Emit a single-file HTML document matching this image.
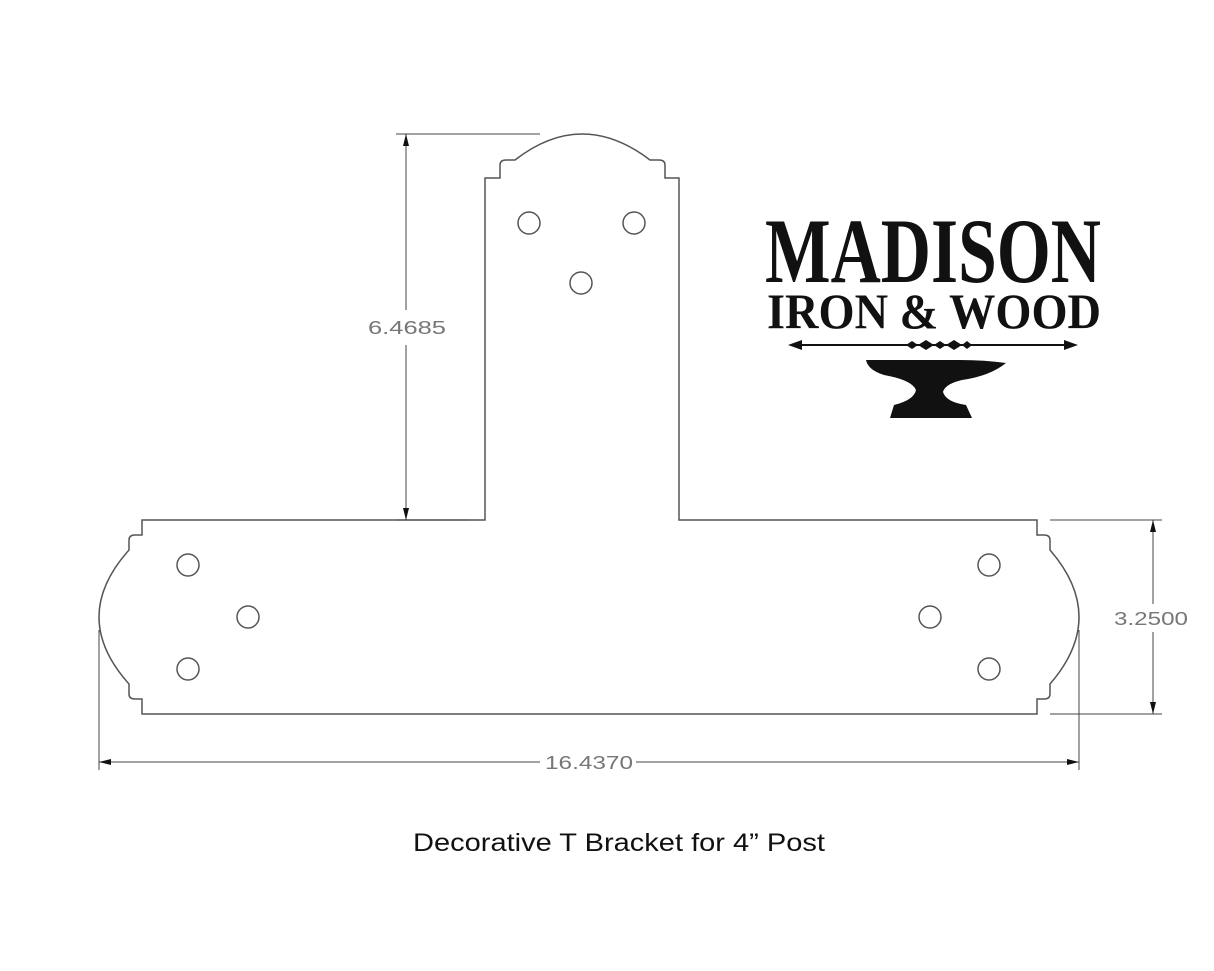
<!DOCTYPE html>
<html><head><style>body{margin:0;background:#fff}svg{display:block}</style></head><body>
<svg width="1214" height="971" viewBox="0 0 1214 971" xmlns="http://www.w3.org/2000/svg">
<g fill="none" stroke="#555" stroke-width="1.5">
<path d="M142 520 H485 V178 H500 V165 Q500 160 506 160 H515 Q582 108 650 160 H659 Q665 160 665 165 V178 H679 V520 H1037 V535 H1044 Q1050 535 1050 540 V550 Q1108 617 1050 684 V694 Q1050 699 1044 699 H1037 V714 H142 V699 H135 Q129 699 129 694 V684 Q69 617 129 550 V540 Q129 535 135 535 H142 Z"/>
<circle cx="529" cy="223" r="11"/><circle cx="634" cy="223" r="11"/><circle cx="581" cy="283" r="11"/>
<circle cx="188" cy="565" r="11"/><circle cx="248" cy="617" r="11"/><circle cx="188" cy="669" r="11"/>
<circle cx="989" cy="565" r="11"/><circle cx="930" cy="617" r="11"/><circle cx="989" cy="669" r="11"/>
</g>
<g stroke="#444" stroke-width="1">
<line x1="396" y1="134" x2="540" y2="134"/><line x1="396" y1="520" x2="470" y2="520"/>
<line x1="406" y1="134" x2="406" y2="310"/><line x1="406" y1="345" x2="406" y2="520"/>
<line x1="1050" y1="520" x2="1162" y2="520"/><line x1="1050" y1="714" x2="1162" y2="714"/>
<line x1="1153" y1="520" x2="1153" y2="604"/><line x1="1153" y1="632" x2="1153" y2="714"/>
<line x1="99" y1="630" x2="99" y2="770"/><line x1="1079" y1="630" x2="1079" y2="770"/>
<line x1="99" y1="762" x2="540" y2="762"/><line x1="636" y1="762" x2="1079" y2="762"/>
</g>
<g fill="#111">
<path d="M406 134 l-3 12 h6z"/><path d="M406 520 l-3 -12 h6z"/>
<path d="M1153 520 l-3 12 h6z"/><path d="M1153 714 l-3 -12 h6z"/>
<path d="M99 762 l12 -3 v6z"/><path d="M1079 762 l-12 -3 v6z"/>
</g>
<g fill="#777" font-family="Liberation Sans, sans-serif" font-size="18">
<text x="368" y="334" textLength="78" lengthAdjust="spacingAndGlyphs">6.4685</text>
<text x="1114" y="625" textLength="74" lengthAdjust="spacingAndGlyphs">3.2500</text>
<text x="545" y="769" textLength="88" lengthAdjust="spacingAndGlyphs">16.4370</text>
</g>
<text x="413" y="851" font-family="Liberation Sans, sans-serif" font-size="25" fill="#111" textLength="412" lengthAdjust="spacingAndGlyphs">Decorative T Bracket for 4” Post</text>
<g fill="#111" font-family="Liberation Serif, serif" font-weight="bold">
<text x="765" y="282" font-size="92" textLength="336" lengthAdjust="spacingAndGlyphs">MADISON</text>
<text x="767" y="328" font-size="50" textLength="334" lengthAdjust="spacingAndGlyphs">IRON &amp; WOOD</text>
</g>
<g fill="#111" stroke="#111">
<line x1="795" y1="345" x2="1070" y2="345" stroke-width="2"/>
<path d="M788 345 l14 -5 v10z M1078 345 l-14 -5 v10z" stroke="none"/>
<path d="M906 345 l6 -4 6 4 -6 4z M918 345 l8 -5 8 5 -8 5z M934 345 l6 -4 6 4 -6 4z M946 345 l8 -5 8 5 -8 5z M962 345 l5 -4 5 4 -5 4z" stroke="none"/>
<path d="M866 360 H960 Q985 360 1006 363 Q990 376 962 380 Q945 384 943 392 Q946 402 966 405 L972 418 H890 L894 405 Q914 400 916 390 Q912 380 884 375 Q868 370 866 360Z" stroke="none"/>
</g>
</svg>
</body></html>
